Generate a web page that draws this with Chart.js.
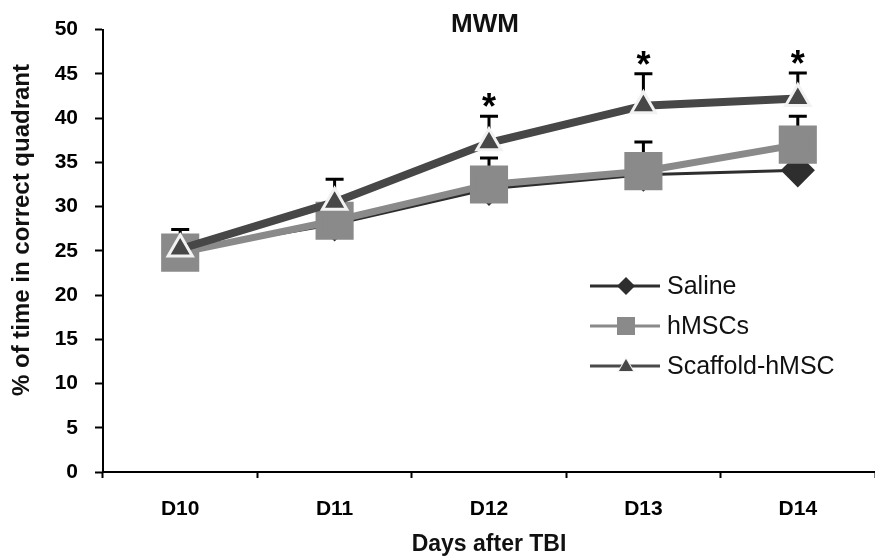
<!DOCTYPE html>
<html>
<head>
<meta charset="utf-8">
<script src="https://cdn.jsdelivr.net/npm/chart.js@4.4.0/dist/chart.umd.min.js"></script>
<style>
  html, body { margin: 0; padding: 0; background: #fff; }
  #wrap { width: 875px; height: 559px; }
</style>
</head>
<body>
<div id="wrap"><canvas id="mwmChart"></canvas></div>
<script>
// données
const days = ['D10', 'D11', 'D12', 'D13', 'D14'];
const saline = [25.0, 28.0, 32.0, 33.6, 34.1];
const hmscs = [24.8, 28.4, 32.5, 34.0, 37.0];
const scaffold = [25.2, 30.5, 37.2, 41.4, 42.2];
const salineErr = [2.4, 1.5, 1.5, 1.5, 1.0];
const hmscsErr = [1.5, 1.5, 3.0, 3.3, 3.2];
const scaffoldErr = [1.0, 2.6, 3.0, 3.6, 2.9];
const stars = ['', '', '*', '*', '*'];

const font = 'Liberation Sans, Arial, sans-serif';

// barres d'erreur (partie haute seulement), dessinées sous les marqueurs
const errorBars = {
    id: 'errorBars',
    beforeDatasetsDraw(chart) {
        const ctx = chart.ctx;
        const x = chart.scales.x, y = chart.scales.y;
        const errs = [salineErr, hmscsErr, scaffoldErr];
        ctx.save();
        ctx.strokeStyle = '#000';
        ctx.lineWidth = 3;
        chart.data.datasets.forEach((ds, i) => {
            ds.data.forEach((v, j) => {
                const px = x.getPixelForValue(j);
                const top = y.getPixelForValue(v + errs[i][j]);
                ctx.beginPath();
                ctx.moveTo(px, y.getPixelForValue(v));
                ctx.lineTo(px, top);
                ctx.moveTo(px - 9, top);
                ctx.lineTo(px + 9, top);
                ctx.stroke();
            });
        });
        ctx.restore();
    },
    afterDatasetsDraw(chart) {
        const ctx = chart.ctx;
        const x = chart.scales.x, y = chart.scales.y;
        ctx.save();
        ctx.fillStyle = '#000';
        ctx.font = 'bold 36px ' + font;
        ctx.textAlign = 'center';
        stars.forEach((s, j) => {
            if (!s) return;
            const top = y.getPixelForValue(scaffold[j] + scaffoldErr[j]);
            ctx.fillText(s, x.getPixelForValue(j), top + 3);
        });
        // titre
        ctx.fillStyle = '#111';
        ctx.font = 'bold 26px ' + font;
        ctx.fillText('MWM', 485, 32);
        // titre de l'axe Y
        ctx.translate(22, 230);
        ctx.rotate(-Math.PI / 2);
        ctx.textBaseline = 'middle';
        ctx.font = 'bold 24px ' + font;
        ctx.fillText('% of time in correct quadrant', 0, 0);
        ctx.restore();
    }
};

// légende maison : trait + marqueur
const lineLegend = {
    id: 'lineLegend',
    afterDraw(chart) {
        const ctx = chart.ctx;
        const items = [
            { label: 'Saline', color: '#2e2e2e', width: 3, y: 286 },
            { label: 'hMSCs', color: '#8a8a8a', width: 3, y: 326 },
            { label: 'Scaffold-hMSC', color: '#4a4a4a', width: 3, y: 366 }
        ];
        ctx.save();
        items.forEach((it, i) => {
            ctx.strokeStyle = it.color;
            ctx.lineWidth = it.width;
            ctx.beginPath();
            ctx.moveTo(590, it.y);
            ctx.lineTo(660, it.y);
            ctx.stroke();
            const ds = chart.data.datasets[i];
            ctx.fillStyle = ds.pointBackgroundColor;
            ctx.strokeStyle = ds.pointBorderColor;
            ctx.lineWidth = 2;
            const cx = 626, cy = it.y;
            ctx.beginPath();
            if (i === 0) {
                ctx.moveTo(cx, cy - 9); ctx.lineTo(cx + 9, cy); ctx.lineTo(cx, cy + 9); ctx.lineTo(cx - 9, cy);
            } else if (i === 1) {
                ctx.rect(cx - 9, cy - 9, 18, 18);
            } else {
                ctx.moveTo(cx, cy - 7); ctx.lineTo(cx + 7, cy + 5); ctx.lineTo(cx - 7, cy + 5);
            }
            ctx.closePath();
            if (i === 2) ctx.stroke();
            ctx.fill();
            ctx.fillStyle = '#111';
            ctx.font = '25px ' + font;
            ctx.textAlign = 'left';
            ctx.textBaseline = 'middle';
            ctx.fillText(it.label, 667, cy + 1);
        });
        ctx.restore();
    }
};

new Chart(document.getElementById('mwmChart'), {
    type: 'line',
    data: {
        labels: days,
        datasets: [{
            label: 'Saline',
            data: saline,
            borderColor: '#2e2e2e',
            borderWidth: 3,
            pointStyle: 'rectRot',
            pointRadius: 15,
            pointBackgroundColor: '#2e2e2e',
            pointBorderColor: '#2e2e2e',
            order: 3
        }, {
            label: 'hMSCs',
            data: hmscs,
            borderColor: '#8a8a8a',
            borderWidth: 7,
            pointStyle: 'rect',
            pointRadius: 22,
            pointBackgroundColor: '#8a8a8a',
            pointBorderColor: '#8a8a8a',
            order: 2
        }, {
            label: 'Scaffold-hMSC',
            data: scaffold,
            borderColor: '#474747',
            borderWidth: 8,
            pointStyle: 'triangle',
            pointRadius: 14,
            pointBorderWidth: 3,
            pointBackgroundColor: '#474747',
            pointBorderColor: '#f2f2f2',
            order: 1
        }]
    },
    options: {
        responsive: true,
        maintainAspectRatio: false,
        animation: false,
        layout: {
            autoPadding: false,
            padding: { top: 28, right: 0, left: 0, bottom: 0 }
        },
        plugins: {
            legend: { display: false },
            tooltip: { enabled: false }
        },
        scales: {
            x: {
                offset: true,
                afterFit(scale) {
                    scale.paddingLeft = 0;
                    scale.paddingRight = 0;
                    scale.height = 87;
                },
                grid: {
                    offset: true,
                    drawOnChartArea: false,
                    tickLength: 6,
                    tickWidth: 2,
                    tickColor: '#000'
                },
                border: { color: '#000', width: 2 },
                ticks: {
                    color: '#000',
                    padding: 19,
                    font: { family: font, size: 21, weight: 'bold' }
                },
                title: {
                    display: true,
                    text: 'Days after TBI',
                    color: '#111',
                    padding: { top: 0, bottom: 1 },
                    font: { family: font, size: 23, weight: 'bold' }
                }
            },
            y: {
                min: 0,
                max: 50,
                afterFit(scale) { scale.width = 103; },
                grid: {
                    drawOnChartArea: false,
                    tickLength: 8,
                    tickWidth: 2,
                    tickColor: '#000'
                },
                border: { color: '#000', width: 2 },
                ticks: {
                    stepSize: 5,
                    color: '#000',
                    padding: 17,
                    font: { family: font, size: 21, weight: 'bold' }
                }
            }
        }
    },
    plugins: [errorBars, lineLegend]
});
</script>
</body>
</html>
